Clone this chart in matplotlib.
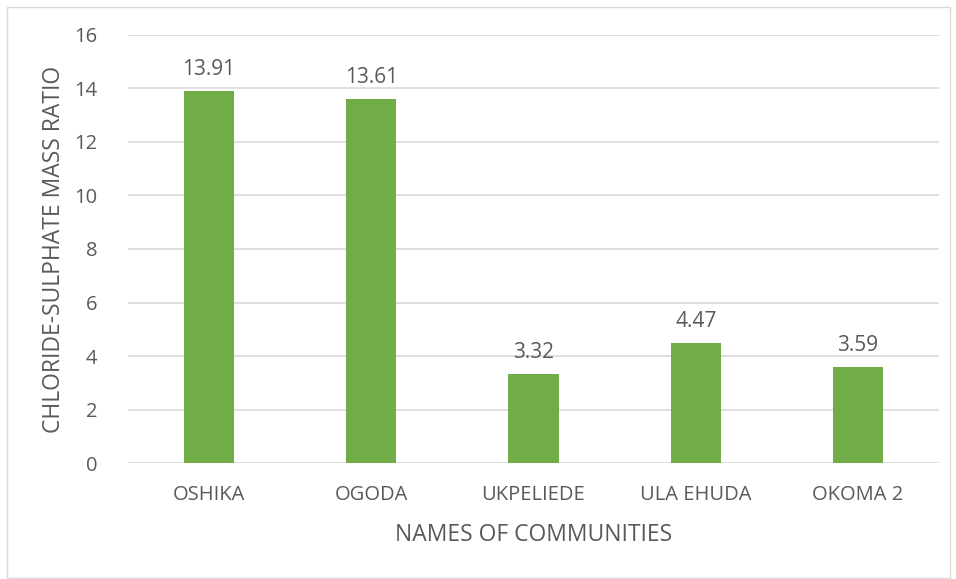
import matplotlib.pyplot as plt
from matplotlib.patches import Rectangle

communities = ['OSHIKA', 'OGODA', 'UKPELIEDE', 'ULA EHUDA', 'OKOMA 2']
ratios = [13.91, 13.61, 3.32, 4.47, 3.59]
yticks = [0, 2, 4, 6, 8, 10, 12, 14, 16]

text_color = '#595959'
plt.rcParams['font.family'] = ['Open Sans', 'DejaVu Sans']

fig = plt.figure(figsize=(9.56, 5.79), dpi=100)
ax = fig.add_axes([0.1339, 0.2003, 0.8483, 0.7393])

x = range(len(communities))
bars = ax.bar(x, ratios, width=0.31, color='#70AD47', zorder=3)

# value labels above bars
for b, v in zip(bars, ratios):
    ax.annotate(f'{v:.2f}', (b.get_x() + b.get_width() / 2, v),
                xytext=(0, 8), textcoords='offset points',
                ha='center', va='bottom', fontsize=15, color=text_color)

ax.set_xlim(-0.5, len(communities) - 0.5)
ax.set_ylim(0, 16)
ax.set_yticks(yticks)
ax.set_xticks(list(x))
ax.set_xticklabels(communities)
ax.grid(axis='y', color='#D9D9D9', linewidth=1.2, zorder=0)
for s in ax.spines.values():
    s.set_visible(False)
ax.tick_params(length=0, labelsize=14.5, colors=text_color)
ax.tick_params(axis='x', pad=16)
ax.tick_params(axis='y', pad=22)

ax.set_xlabel('NAMES OF COMMUNITIES', fontsize=16.5, color=text_color, labelpad=13)
ax.set_ylabel('CHLORIDE-SULPHATE MASS RATIO', fontsize=16.5, color=text_color, labelpad=6)

# light frame around the whole chart
fig.patches.append(Rectangle((7 / 956, 0.002), 943 / 956, 1 - 7 / 579 - 0.002,
                             transform=fig.transFigure, fill=False,
                             edgecolor='#D9D9D9', linewidth=1))

fig.savefig('out.png', dpi=100)
